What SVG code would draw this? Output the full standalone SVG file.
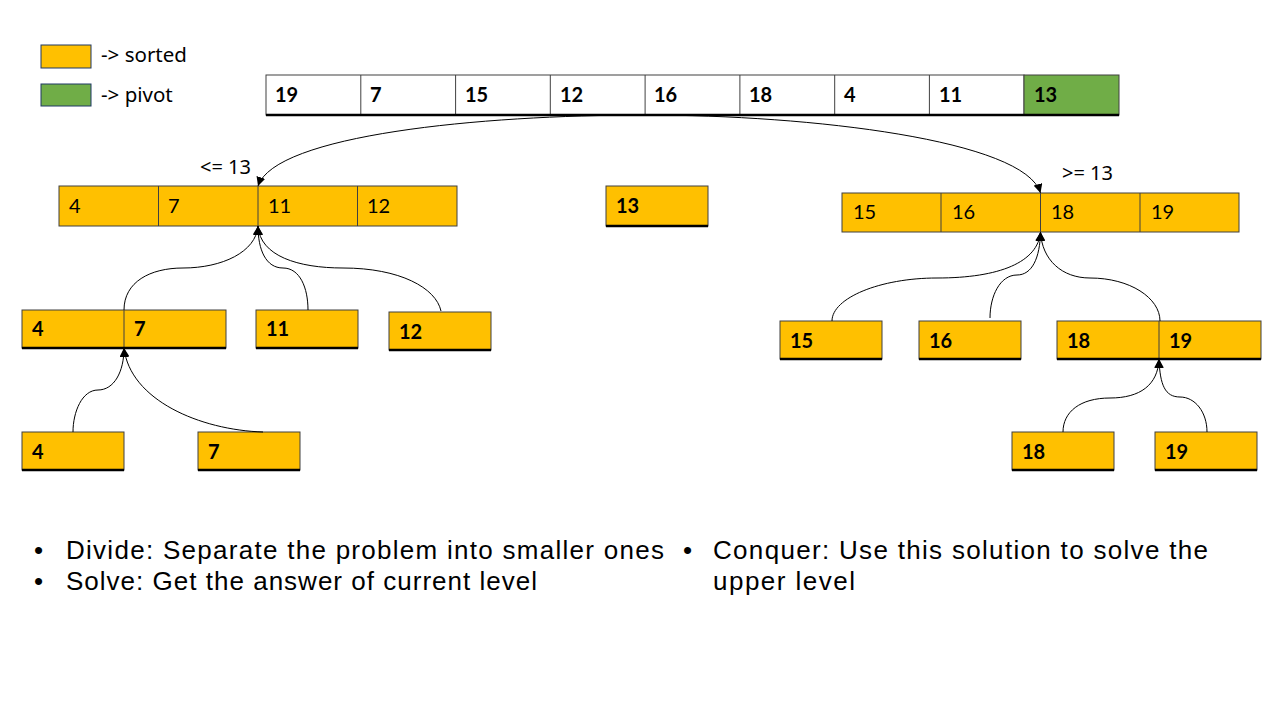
<svg xmlns="http://www.w3.org/2000/svg" width="1280" height="720" viewBox="0 0 1280 720">
  <style>
    .cell { stroke: #404040; stroke-width: 1; }
    .white { fill: #ffffff; }
    .sorted { fill: #FFC000; }
    .pivot { fill: #70AD47; }
    .base { stroke: #000; stroke-width: 2.5; }
    .num { font-family: Lato, "Liberation Sans", sans-serif; font-size: 20px; fill: #000; }
    .b { font-weight: bold; }
    .lbl { font-family: "Noto Sans", "Open Sans", sans-serif; font-size: 20px; fill: #000; }
    .bul { font-family: "Liberation Sans", Arial, sans-serif; font-size: 26px; fill: #000; }
    .conn { fill: none; stroke: #000; stroke-width: 1; }
  </style>
  <defs>
    <marker id="tri" viewBox="0 0 10 10" refX="10" refY="5" markerWidth="9" markerHeight="9" markerUnits="userSpaceOnUse" orient="auto">
      <path d="M0,0 L10,5 L0,10 z" fill="#000"/>
    </marker>
  </defs>
  <rect width="1280" height="720" fill="#ffffff"/>

  <!-- legend -->
  <g id="legend">
    <rect x="41" y="45" width="50" height="23" fill="#FFC000" stroke="#1F3864" stroke-width="1"/>
    <text x="101" y="62" class="lbl" style="font-size:20.5px">-&gt; sorted</text>
    <rect x="41" y="84" width="50" height="22" fill="#70AD47" stroke="#1F3864" stroke-width="1"/>
    <text x="101" y="102" class="lbl" style="font-size:20.5px">-&gt; pivot</text>
  </g>

  <!-- input array -->
  <g id="input">
    <rect class="cell white" x="266" y="75" width="758" height="40"/>
    <rect class="cell pivot" x="1024" y="75" width="95" height="40"/>
    <g class="cell">
      <line x1="360.8" y1="75" x2="360.8" y2="115"/>
      <line x1="455.6" y1="75" x2="455.6" y2="115"/>
      <line x1="550.3" y1="75" x2="550.3" y2="115"/>
      <line x1="645.1" y1="75" x2="645.1" y2="115"/>
      <line x1="739.9" y1="75" x2="739.9" y2="115"/>
      <line x1="834.7" y1="75" x2="834.7" y2="115"/>
      <line x1="929.4" y1="75" x2="929.4" y2="115"/>
    </g>
    <line class="base" x1="266" y1="115" x2="1119" y2="115"/>
    <g class="num b">
      <text x="275" y="102">19</text>
      <text x="370" y="102">7</text>
      <text x="465" y="102">15</text>
      <text x="560" y="102">12</text>
      <text x="654" y="102">16</text>
      <text x="749" y="102">18</text>
      <text x="844" y="102">4</text>
      <text x="939" y="102">11</text>
      <text x="1034" y="102">13</text>
    </g>
  </g>

  <!-- left partition -->
  <g id="left">
    <rect class="cell sorted" x="59" y="186" width="398" height="40"/>
    <g class="cell">
      <line x1="158.5" y1="186" x2="158.5" y2="226"/>
      <line x1="258" y1="186" x2="258" y2="226"/>
      <line x1="357.5" y1="186" x2="357.5" y2="226"/>
    </g>
    <g class="num">
      <text x="69" y="213">4</text>
      <text x="168" y="213">7</text>
      <text x="268" y="213">11</text>
      <text x="367" y="213">12</text>
    </g>
    <text x="200" y="174" class="lbl">&lt;= 13</text>
  </g>

  <!-- pivot -->
  <g id="pivot">
    <rect class="cell sorted" x="606" y="186" width="102" height="40"/>
    <line class="base" x1="606" y1="226" x2="708" y2="226"/>
    <text x="616" y="213" class="num b">13</text>
  </g>

  <!-- right partition -->
  <g id="right">
    <rect class="cell sorted" x="842" y="193" width="397" height="39"/>
    <g class="cell">
      <line x1="941" y1="193" x2="941" y2="232"/>
      <line x1="1040.5" y1="193" x2="1040.5" y2="232"/>
      <line x1="1140" y1="193" x2="1140" y2="232"/>
    </g>
    <g class="num">
      <text x="853" y="219">15</text>
      <text x="952" y="219">16</text>
      <text x="1051" y="219">18</text>
      <text x="1151" y="219">19</text>
    </g>
    <text x="1062" y="180" class="lbl">&gt;= 13</text>
  </g>

  <!-- left subtree -->
  <g id="l-47">
    <rect class="cell sorted" x="22" y="310" width="204" height="38"/>
    <line class="cell" x1="124" y1="310" x2="124" y2="348"/>
    <line class="base" x1="22" y1="348" x2="226" y2="348"/>
    <text x="32" y="336" class="num b">4</text>
    <text x="134" y="336" class="num b">7</text>
  </g>
  <g id="l-11">
    <rect class="cell sorted" x="256" y="310" width="102" height="38"/>
    <line class="base" x1="256" y1="348" x2="358" y2="348"/>
    <text x="266" y="336" class="num b">11</text>
  </g>
  <g id="l-12">
    <rect class="cell sorted" x="389" y="312" width="102" height="38"/>
    <line class="base" x1="389" y1="350" x2="491" y2="350"/>
    <text x="399" y="339" class="num b">12</text>
  </g>
  <g id="l-4">
    <rect class="cell sorted" x="22" y="432" width="102" height="38"/>
    <line class="base" x1="22" y1="470" x2="124" y2="470"/>
    <text x="32" y="459" class="num b">4</text>
  </g>
  <g id="l-7">
    <rect class="cell sorted" x="198" y="432" width="102" height="38"/>
    <line class="base" x1="198" y1="470" x2="300" y2="470"/>
    <text x="208" y="459" class="num b">7</text>
  </g>

  <!-- right subtree -->
  <g id="r-15">
    <rect class="cell sorted" x="780" y="321" width="102" height="38"/>
    <line class="base" x1="780" y1="359" x2="882" y2="359"/>
    <text x="790" y="348" class="num b">15</text>
  </g>
  <g id="r-16">
    <rect class="cell sorted" x="919" y="321" width="102" height="38"/>
    <line class="base" x1="919" y1="359" x2="1021" y2="359"/>
    <text x="929" y="348" class="num b">16</text>
  </g>
  <g id="r-1819">
    <rect class="cell sorted" x="1057" y="321" width="204" height="38"/>
    <line class="cell" x1="1159" y1="321" x2="1159" y2="359"/>
    <line class="base" x1="1057" y1="359" x2="1261" y2="359"/>
    <text x="1067" y="348" class="num b">18</text>
    <text x="1169" y="348" class="num b">19</text>
  </g>
  <g id="r-18">
    <rect class="cell sorted" x="1012" y="432" width="102" height="38"/>
    <line class="base" x1="1012" y1="470" x2="1114" y2="470"/>
    <text x="1022" y="459" class="num b">18</text>
  </g>
  <g id="r-19">
    <rect class="cell sorted" x="1155" y="432" width="102" height="38"/>
    <line class="base" x1="1155" y1="470" x2="1257" y2="470"/>
    <text x="1165" y="459" class="num b">19</text>
  </g>

  <!-- connectors -->
  <g id="connectors" class="conn">
    <path d="M645,115 C480,115 275,135 258,186" marker-end="url(#tri)"/>
    <path d="M645,115 C810,115 1025,140 1040.5,193" marker-end="url(#tri)"/>

    <path d="M124,310 C124,282 150,268 183,268 C222,268 256,252 258,226" marker-end="url(#tri)"/>
    <path d="M308,310 C308,288 300,268 283,268 C266,268 258,250 258,226" marker-end="url(#tri)"/>
    <path d="M441,311 C436,288 400,268 343,268 C298,268 260,256 258,226" marker-end="url(#tri)"/>

    <path d="M73,432 C73,412 82,390 98,390 C114,390 124,372 124,348" marker-end="url(#tri)"/>
    <path d="M263,432 C200,430 130,400 124,348" marker-end="url(#tri)"/>

    <path d="M832,321 C832,298 880,278 937,278 C1000,278 1038,262 1040.5,232" marker-end="url(#tri)"/>
    <path d="M990,318 C990,296 1000,275 1017,275 C1032,275 1040,258 1040.5,232" marker-end="url(#tri)"/>
    <path d="M1160,321 C1160,298 1130,278 1090,278 C1062,278 1042,260 1040.5,232" marker-end="url(#tri)"/>

    <path d="M1063,432 C1063,412 1080,398 1110,398 C1140,398 1158,385 1159,359" marker-end="url(#tri)"/>
    <path d="M1207,432 C1207,412 1195,397 1180,397 C1165,397 1160,385 1159,359" marker-end="url(#tri)"/>
  </g>

  <!-- notes -->
  <g id="notes" class="bul">
    <text x="34" y="559">•</text>
    <text x="66" y="559" textLength="598" lengthAdjust="spacing">Divide: Separate the problem into smaller ones</text>
    <text x="34" y="590">•</text>
    <text x="66" y="590" textLength="471" lengthAdjust="spacing">Solve: Get the answer of current level</text>
    <text x="683" y="559">•</text>
    <text x="713" y="559" textLength="495" lengthAdjust="spacing">Conquer: Use this solution to solve the</text>
    <text x="713" y="590" textLength="142" lengthAdjust="spacing">upper level</text>
  </g>
</svg>
